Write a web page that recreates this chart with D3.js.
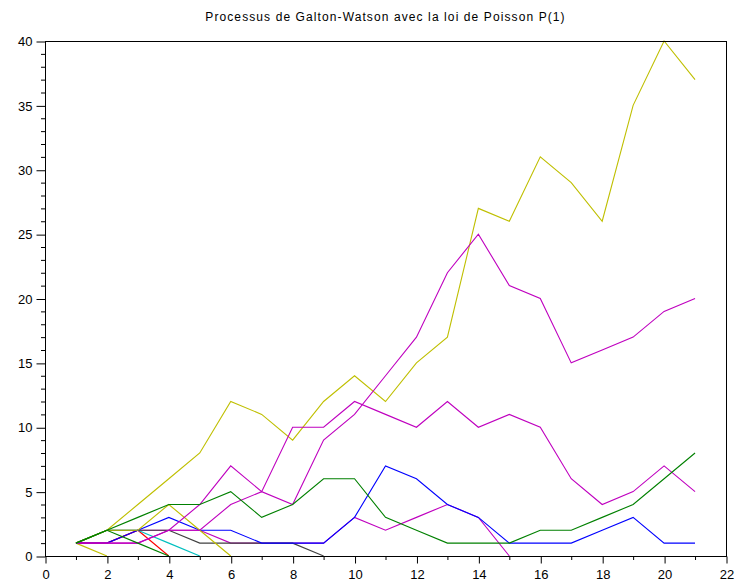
<!DOCTYPE html>
<html>
<head>
<meta charset="utf-8">
<script src="https://cdn.jsdelivr.net/npm/d3@7"></script>
<style>
  html, body { margin: 0; padding: 0; background: #ffffff; }
  svg { display: block; }
  text { font-family: "Liberation Sans", Arial, Helvetica, sans-serif; fill: #000; }
</style>
</head>
<body>
<svg id="chart" width="737" height="587"></svg>
<script>
// Population size per generation (generation 1 starts with one individual).
const magentaSmall = [1, 1, 2, 2, 2, 1, 1, 1, 1, 3, 2, 3, 4, 3, 0];
const redPath      = [1, 1, 2, 0];
const cyanPath     = [1, 2, 2, 1, 0];
const grayPath     = [1, 2, 2, 2, 1, 1, 1, 1, 0];
const bluePath     = [1, 1, 2, 3, 2, 2, 1, 1, 1, 3, 7, 6, 4, 3, 1, 1, 1, 2, 3, 1, 1];
const yellowShort  = [1, 0];
const yellowMid    = [1, 2, 2, 4, 2, 0];
const yellowLong   = [1, 2, 4, 6, 8, 12, 11, 9, 12, 14, 12, 15, 17, 27, 26, 31, 29, 26, 35, 40, 37];
const magentaHigh  = [1, 1, 1, 2, 2, 4, 5, 4, 9, 11, 14, 17, 22, 25, 21, 20, 15, 16, 17, 19, 20];
const magentaMid   = [1, 1, 1, 2, 4, 7, 5, 10, 10, 12, 11, 10, 12, 10, 11, 10, 6, 4, 5, 7, 5];
const greenShort   = [1, 2, 1, 0];
const greenLong    = [1, 2, 3, 4, 4, 5, 3, 4, 6, 6, 3, 2, 1, 1, 1, 2, 2, 3, 4, 6, 8];

const xTicks = [0, 2, 4, 6, 8, 10, 12, 14, 16, 18, 20, 22];
const yTicks = [0, 5, 10, 15, 20, 25, 30, 35, 40];
const titleText = "Processus de Galton-Watson avec la loi de Poisson P(1)";

// Drawing order: later series are painted on top.
const series = [
  { values: magentaSmall, color: "#bf00bf" },
  { values: redPath,      color: "#ff0000" },
  { values: cyanPath,     color: "#00bfbf" },
  { values: grayPath,     color: "#404040" },
  { values: bluePath,     color: "#0000ff" },
  { values: yellowShort,  color: "#bfbf00" },
  { values: yellowMid,    color: "#bfbf00" },
  { values: yellowLong,   color: "#bfbf00" },
  { values: magentaHigh,  color: "#bf00bf" },
  { values: magentaMid,   color: "#bf00bf" },
  { values: greenShort,   color: "#008000" },
  { values: greenLong,    color: "#008000" }
];

const svg = d3.select("#chart");
const plotLeft = 45, plotRight = 726, plotTop = 41, plotBottom = 556;

const x = d3.scaleLinear().domain([0, 22]).range([plotLeft, plotRight]);
const y = d3.scaleLinear().domain([0, 40]).range([plotBottom, plotTop]);

// Title
svg.append("text")
  .attr("x", (plotLeft + plotRight) / 2)
  .attr("y", 21)
  .attr("text-anchor", "middle")
  .style("font-size", "12px")
  .style("letter-spacing", "1.1px")
  .text(titleText);

// Data lines
const line = d3.line()
  .x((d, i) => x(i + 1))
  .y(d => y(d));

svg.append("g")
  .selectAll("path")
  .data(series)
  .join("path")
  .attr("d", d => line(d.values))
  .attr("fill", "none")
  .attr("stroke", d => d.color)
  .attr("stroke-width", 1.1);

// Frame
svg.append("rect")
  .attr("x", plotLeft + 0.5)
  .attr("y", plotTop + 0.5)
  .attr("width", plotRight - plotLeft)
  .attr("height", plotBottom - plotTop)
  .attr("fill", "none")
  .attr("stroke", "#000")
  .attr("stroke-width", 1);

// Bottom axis: major ticks with labels, minor ticks every unit
const xMinor = d3.range(0, 23).filter(v => !xTicks.includes(v));
const gx = svg.append("g").attr("transform", `translate(0.5,${plotBottom + 0.5})`);
gx.call(d3.axisBottom(x).tickValues(xTicks).tickSize(7).tickPadding(6).tickFormat(d3.format("d")))
  .call(g => g.select(".domain").remove())
  .call(g => g.selectAll("text").style("font-size", "13px").attr("fill", "#000"));
gx.selectAll(".minor").data(xMinor).join("line")
  .attr("class", "minor")
  .attr("x1", d => x(d)).attr("x2", d => x(d))
  .attr("y1", 0).attr("y2", 3.5)
  .attr("stroke", "#000");

// Left axis
const yMinor = d3.range(0, 41).filter(v => !yTicks.includes(v));
const gy = svg.append("g").attr("transform", `translate(${plotLeft + 0.5},0.5)`);
gy.call(d3.axisLeft(y).tickValues(yTicks).tickSize(9).tickPadding(4).tickFormat(d3.format("d")))
  .call(g => g.select(".domain").remove())
  .call(g => g.selectAll("text").style("font-size", "13px").attr("fill", "#000"));
gy.selectAll(".minor").data(yMinor).join("line")
  .attr("class", "minor")
  .attr("y1", d => y(d)).attr("y2", d => y(d))
  .attr("x1", 0).attr("x2", -4.5)
  .attr("stroke", "#000");
</script>
</body>
</html>
